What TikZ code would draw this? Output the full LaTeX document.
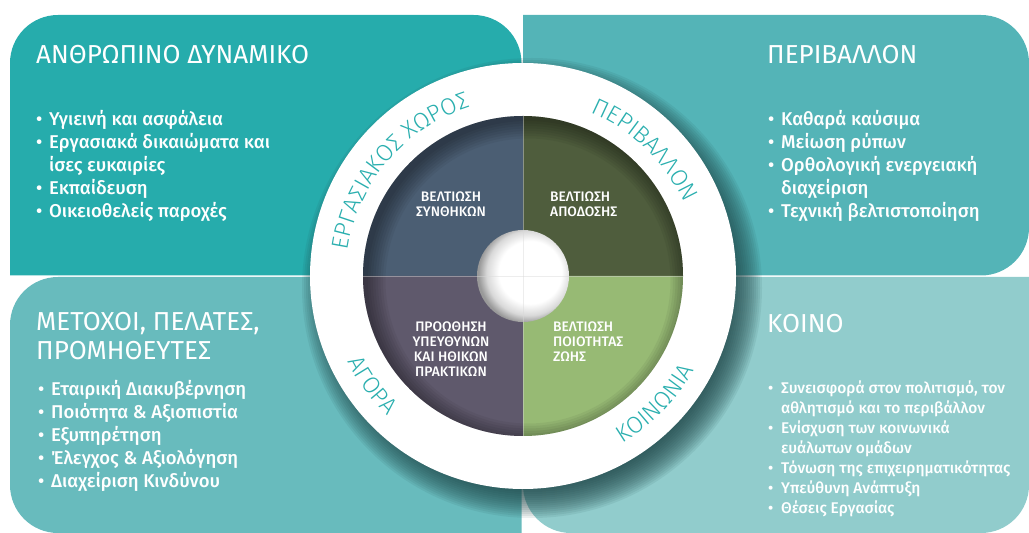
\documentclass[tikz,border=0pt]{standalone}
\usepackage{fontspec}
\setmainfont{Fira Sans}
\newfontfamily\medfont{Fira Sans Medium}
\newfontfamily\ringfont{Fira Sans Light}
\usetikzlibrary{calc,decorations.text}
\definecolor{pantl}{RGB}{38,172,172}
\definecolor{pantr}{RGB}{84,180,183}
\definecolor{panbl}{RGB}{104,187,189}
\definecolor{panbr}{RGB}{145,204,204}
\definecolor{qtl}{RGB}{75,94,115}
\definecolor{qtr}{RGB}{79,93,61}
\definecolor{qbl}{RGB}{95,89,108}
\definecolor{qbr}{RGB}{151,186,116}
\definecolor{ringtxt}{RGB}{42,175,175}
\definecolor{shadowc}{RGB}{28,66,68}
\pgfdeclareradialshading{holeshade}{\pgfpoint{6bp}{3bp}}{color(0bp)=(white); color(17bp)=(white); color(23bp)=(black!15); color(27bp)=(black!40); color(50bp)=(black!40)}
\tikzset{title/.style={anchor=west,inner sep=0pt,text=white,font=\fontsize{26}{29}\selectfont}}
\tikzset{blist/.style={anchor=north west,inner sep=0pt,text=white,align=left,font=\medfont\fontsize{18.5}{23}\selectfont}}
\tikzset{qtext/.style={inner sep=0pt,text=white,font=\medfont\fontsize{13.8}{15}\selectfont}}
\tikzset{ringlabel/.style={decorate,decoration={text along path,text align=center,text color=ringtxt,text={|\ringfont\fontsize{23.5}{26}\selectfont|#1}}}}
\newcommand{\bul}{\makebox[13pt][l]{\textbullet}}
\newcommand{\hang}{\hspace*{13pt}}
\def\rr{48}

\begin{document}
\begin{tikzpicture}[x=1pt,y=1pt]
\useasboundingbox (0,0) rectangle (1029,533);
\coordinate (c) at (523,257);

% four panels
\fill[pantl] (10,257.5) -- (10,518-\rr) arc[start angle=180,end angle=90,radius=\rr] -- (521.5-\rr,518) arc[start angle=90,end angle=0,radius=\rr] -- (521.5,257.5) -- cycle;
\fill[pantr] (523,257.5) -- (523,518) -- (1029-\rr,518) arc[start angle=90,end angle=0,radius=\rr] -- (1029,257.5+\rr) arc[start angle=0,end angle=-90,radius=\rr] -- cycle;
\fill[panbl] (521.5,256) -- (10+\rr,256) arc[start angle=90,end angle=180,radius=\rr] -- (10,\rr) arc[start angle=180,end angle=270,radius=\rr] -- (521.5,0) -- cycle;
\fill[panbr] (523,256) -- (1029,256) -- (1029,\rr) arc[start angle=0,end angle=-90,radius=\rr] -- (523+\rr,0) arc[start angle=270,end angle=180,radius=\rr] -- cycle;

% wheel
\foreach \k in {0,...,15}
  \fill[shadowc,opacity=0.085] ($(c)+(9,-12)$) circle (200+2*\k);
\fill[white] (c) circle (213);
\foreach \col/\a in {qtr/0,qtl/90,qbl/180,qbr/270}
  \fill[\col] (c) -- ++(\a:160) arc[start angle=\a,end angle=\a+90,radius=160] -- cycle;
\begin{scope}
  \clip (c) circle (160);
  \foreach \k in {0,...,7}
    \fill[black,opacity=0.05,even odd rule] (c) circle (170) ($(c)+(5,-5)$) circle (160-2.5*\k);
\end{scope}
\shade[shading=holeshade] (c) circle (46);
\draw[white!85!black,opacity=0.45,line width=0.7] ($(c)+(-160,0)$) -- ($(c)+(160,0)$);
\draw[white!85!black,opacity=0.45,line width=0.7] ($(c)+(0,-160)$) -- ($(c)+(0,160)$);

% ring labels
\path[ringlabel={ΕΡΓΑΣΙΑΚΟΣ ΧΩΡΟΣ}] ($(c)+(178:177)$) arc[start angle=178,end angle=101,radius=177];
\path[ringlabel={ΠΕΡΙΒΑΛΛΟΝ}] ($(c)+(75:177)$) arc[start angle=75,end angle=17,radius=177];
\path[ringlabel={ΑΓΟΡΑ}] ($(c)+(196:195)$) arc[start angle=196,end angle=236,radius=195];
\path[ringlabel={ΚΟΙΝΩΝΙΑ}] ($(c)+(290:195)$) arc[start angle=290,end angle=342,radius=195];

% quadrant texts
\node[qtext,align=center] (cond) at (451,329) {ΒΕΛΤΙΩΣΗ\\ΣΥΝΘΗΚΩΝ};
\node[qtext,align=left,anchor=west] (perf) at (550,329) {ΒΕΛΤΙΩΣΗ\\ΑΠΟΔΟΣΗΣ};
\node[qtext,align=center] (ethics) at (451,184) {ΠΡΟΩΘΗΣΗ\\ΥΠΕΥΘΥΝΩΝ\\ΚΑΙ ΗΘΙΚΩΝ\\ΠΡΑΚΤΙΚΩΝ};
\node[qtext,align=left,anchor=west] (life) at (553,191) {ΒΕΛΤΙΩΣΗ\\ΠΟΙΟΤΗΤΑΣ\\ΖΩΗΣ};

% panel titles
\node[title] (human) at (36,478) {ΑΝΘΡΩΠΙΝΟ ΔΥΝΑΜΙΚΟ};
\node[title] (envt) at (767,478) {ΠΕΡΙΒΑΛΛΟΝ};
\node[title,align=left,anchor=north west] (stake) at (36,221) {ΜΕΤΟΧΟΙ, ΠΕΛΑΤΕΣ,\\ΠΡΟΜΗΘΕΥΤΕΣ};
\node[title] (society) at (767,209) {ΚΟΙΝΟ};

% bullet lists
\node[blist] (humanlist) at (36,423) {\bul Υγιεινή και ασφάλεια\\ \bul Εργασιακά δικαιώματα και\\ \hang ίσες ευκαιρίες\\ \bul Εκπαίδευση\\ \bul Οικειοθελείς παροχές};
\node[blist] (envlist) at (768,423) {\bul Καθαρά καύσιμα\\ \bul Μείωση ρύπων\\ \bul Ορθολογική ενεργειακή\\ \hang διαχείριση\\ \bul Τεχνική βελτιστοποίηση};
\node[blist] (stakelist) at (38,153) {\bul Εταιρική Διακυβέρνηση\\ \bul Ποιότητα \& Αξιοπιστία\\ \bul Εξυπηρέτηση\\ \bul Έλεγχος \& Αξιολόγηση\\ \bul Διαχείριση Κινδύνου};
\node[blist,font=\medfont\fontsize{15.5}{20}\selectfont] (socilist) at (768,152) {\bul Συνεισφορά στον πολιτισμό, τον\\ \hang αθλητισμό και το περιβάλλον\\ \bul Ενίσχυση των κοινωνικά\\ \hang ευάλωτων ομάδων\\ \bul Τόνωση της επιχειρηματικότητας\\ \bul Υπεύθυνη Ανάπτυξη\\ \bul Θέσεις Εργασίας};
\end{tikzpicture}
\end{document}
